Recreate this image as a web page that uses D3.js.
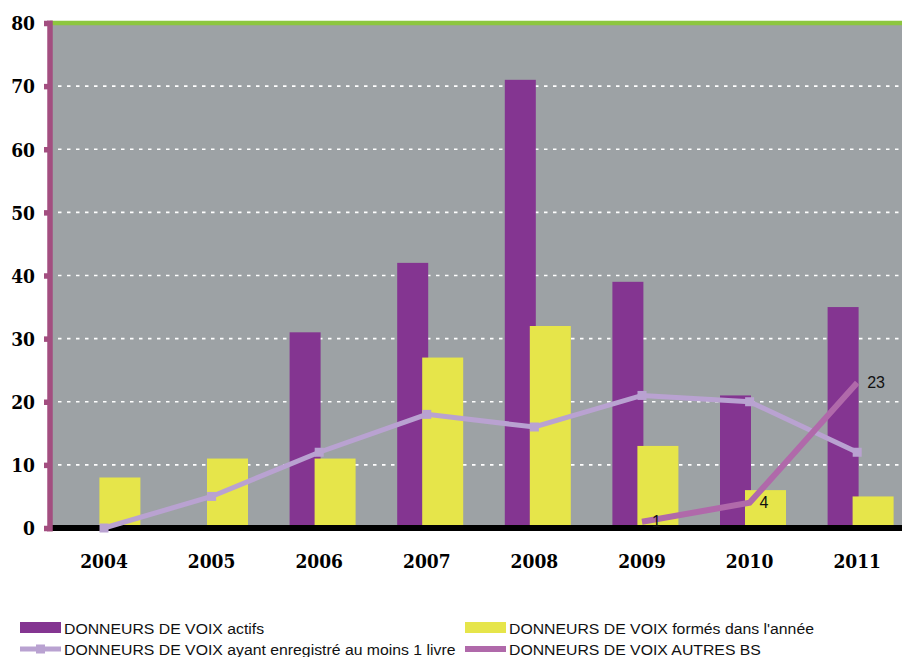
<!DOCTYPE html>
<html>
<head>
<meta charset="utf-8">
<script src="https://cdn.jsdelivr.net/npm/d3@7/dist/d3.min.js"></script>
<style>
  html, body { margin: 0; padding: 0; background: #ffffff; }
  svg { display: block; }
</style>
</head>
<body>
<svg id="chart" width="902" height="657"></svg>
<script>
// ---- data ----
const years = ["2004", "2005", "2006", "2007", "2008", "2009", "2010", "2011"];
const actifs = [0, 0, 31, 42, 71, 39, 21, 35];
const formes = [8, 11, 11, 27, 32, 13, 6, 5];
const enregistre = [0, 5, 12, 18, 16, 21, 20, 12];
const autresYears = ["2009", "2010", "2011"];
const autresBS = [1, 4, 23];
const yTicks = [0, 10, 20, 30, 40, 50, 60, 70, 80];
const seriesNames = [
  "DONNEURS DE VOIX actifs",
  "DONNEURS DE VOIX formés dans l'année",
  "DONNEURS DE VOIX ayant enregistré au moins 1 livre",
  "DONNEURS DE VOIX AUTRES BS"
];

// ---- styles ----
const C = {
  bg: "#9da2a5", purple: "#843591", yellow: "#e6e54a",
  lav: "#b9a2d1", mag: "#b069aa", axis: "#a34e80", green: "#8dc63f"
};
const slab = "'DejaVu Serif Condensed', 'DejaVu Serif', serif";
const sans = "'Liberation Sans', Arial, sans-serif";

const svg = d3.select("#chart");
const plotLeft = 50, plotRight = 902;

const x = d3.scaleBand().domain(years).range([50.2, 911]).padding(0);
const step = x.step();
const cx = d => x(d) + step / 2;
const y = d3.scaleLinear().domain([0, 80]).range([528, 23]);

// background
svg.append("rect").attr("x", plotLeft).attr("y", y(80)).attr("width", plotRight - plotLeft)
  .attr("height", y(0) - y(80)).attr("fill", C.bg);

// gridlines
svg.append("g").selectAll("line").data(yTicks.filter(t => t > 0 && t < 80)).join("line")
  .attr("x1", 58).attr("x2", plotRight).attr("y1", d => y(d)).attr("y2", d => y(d))
  .attr("stroke", "#ffffff").attr("stroke-width", 1.6).attr("stroke-dasharray", "3.5,5.5");

// bars: actifs
svg.append("g").selectAll("rect").data(years.map((yr, i) => ({ yr, v: actifs[i] })).filter(d => d.v > 0)).join("rect")
  .attr("x", d => cx(d.yr) - 29.6).attr("width", 31)
  .attr("y", d => y(d.v)).attr("height", d => y(0) - y(d.v)).attr("fill", C.purple);

// bars: formés
svg.append("g").selectAll("rect").data(years.map((yr, i) => ({ yr, v: formes[i] }))).join("rect")
  .attr("x", d => cx(d.yr) - 4.6).attr("width", 41)
  .attr("y", d => y(d.v)).attr("height", d => y(0) - y(d.v)).attr("fill", C.yellow);

// top green line
svg.append("line").attr("x1", plotLeft).attr("x2", plotRight).attr("y1", y(80)).attr("y2", y(80))
  .attr("stroke", C.green).attr("stroke-width", 4.5);

// baseline
svg.append("line").attr("x1", plotLeft).attr("x2", plotRight).attr("y1", y(0)).attr("y2", y(0))
  .attr("stroke", "#000000").attr("stroke-width", 6);

// line: enregistré
const lineGen = d3.line().x(d => cx(d.yr)).y(d => y(d.v));
const enrData = years.map((yr, i) => ({ yr, v: enregistre[i] }));
svg.append("path").datum(enrData).attr("d", lineGen).attr("fill", "none")
  .attr("stroke", C.lav).attr("stroke-width", 5).attr("stroke-linejoin", "miter");
svg.append("g").selectAll("rect").data(enrData).join("rect")
  .attr("x", d => cx(d.yr) - 4.5).attr("y", d => y(d.v) - 4.5).attr("width", 9).attr("height", 9)
  .attr("fill", C.lav);

// line: autres BS
const autData = autresYears.map((yr, i) => ({ yr, v: autresBS[i] }));
svg.append("path").datum(autData).attr("d", lineGen).attr("fill", "none")
  .attr("stroke", C.mag).attr("stroke-width", 6).attr("stroke-linejoin", "miter");
svg.append("g").selectAll("text").data(autData).join("text")
  .attr("x", d => cx(d.yr) + 10).attr("y", d => y(d.v) + 5.5)
  .attr("font-family", sans).attr("font-size", 16).attr("fill", "#111")
  .text(d => d.v);

// left axis
const yAxis = d3.axisLeft(y).tickValues(yTicks).tickSize(6).tickPadding(9).tickFormat(d3.format("d"));
const ag = svg.append("g").attr("transform", `translate(${plotLeft},0)`).call(yAxis);
ag.select(".domain").remove();
ag.selectAll(".tick line").attr("stroke", C.axis).attr("stroke-width", 5.5).attr("x1", -2);
ag.append("line").attr("x1", 0).attr("x2", 0).attr("y1", y(80) - 2.5).attr("y2", y(0) + 3.5)
  .attr("stroke", C.axis).attr("stroke-width", 5.5);
ag.selectAll(".tick text").attr("font-family", slab).attr("font-weight", "bold")
  .attr("font-size", 19).attr("fill", "#000").attr("dy", "0.36em");

// x axis labels
svg.append("g").selectAll("text").data(years).join("text")
  .attr("x", d => cx(d)).attr("y", 568).attr("text-anchor", "middle")
  .attr("font-family", slab).attr("font-weight", "bold").attr("font-size", 19).attr("fill", "#000")
  .text(d => d);

// legend
const legend = [
  { name: seriesNames[0], type: "rect", color: C.purple, x: 20, y: 628 },
  { name: seriesNames[1], type: "rect", color: C.yellow, x: 465, y: 628 },
  { name: seriesNames[2], type: "line", color: C.lav, x: 20, y: 649 },
  { name: seriesNames[3], type: "line2", color: C.mag, x: 465, y: 649 }
];
const lg = svg.append("g").selectAll("g").data(legend).join("g")
  .attr("transform", d => `translate(${d.x},${d.y})`);
lg.filter(d => d.type === "rect").append("rect")
  .attr("x", 0).attr("y", -6).attr("width", 41).attr("height", 11).attr("fill", d => d.color);
lg.filter(d => d.type !== "rect").append("line")
  .attr("x1", 0).attr("x2", 41).attr("y1", 0).attr("y2", 0)
  .attr("stroke", d => d.color).attr("stroke-width", d => d.type === "line" ? 5 : 6);
lg.filter(d => d.type === "line").append("rect")
  .attr("x", 16).attr("y", -4.5).attr("width", 9).attr("height", 9).attr("fill", d => d.color);
lg.append("text").attr("x", 0).attr("y", 0)
  .attr("transform", "translate(44,5.5) scale(1.09,1)")
  .attr("font-family", sans).attr("font-size", 14.5).attr("fill", "#111")
  .text(d => d.name);
</script>
</body>
</html>
